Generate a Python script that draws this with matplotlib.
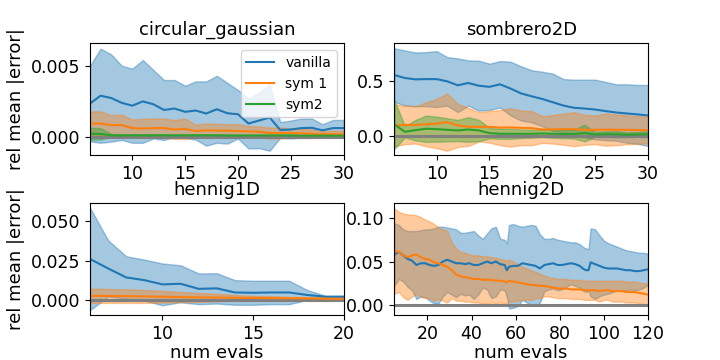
import matplotlib
matplotlib.use("Agg")
import matplotlib.pyplot as plt
import numpy as np

plt.rcParams['font.size'] = 12.5
plt.rcParams['axes.titlesize'] = 13
plt.rcParams['axes.labelsize'] = 13
plt.rcParams['legend.fontsize'] = 10

# circular_gaussian
x_circ = list(range(6, 31))
circ_van_mean = [0.00235, 0.0029, 0.00274, 0.0024, 0.0022, 0.0025, 0.0023, 0.0019, 0.002, 0.00177,
                 0.00186, 0.00165, 0.00195, 0.00167, 0.0016, 0.00095, 0.00116, 0.00137, 0.0005, 0.00053,
                 0.00063, 0.00065, 0.00047, 0.00063, 0.00063]
circ_van_std = [0.00265, 0.0033, 0.00306, 0.0026, 0.0026, 0.0029, 0.0024, 0.0021, 0.002, 0.00183,
                0.00204, 0.00225, 0.00235, 0.00213, 0.0017, 0.00175, 0.00194, 0.00233, 0.00055, 0.00063,
                0.00067, 0.00065, 0.00043, 0.00057, 0.00057]
circ_sym1_mean = [0.00095, 0.00095, 0.00084, 0.00084, 0.00063, 0.0006, 0.00063, 0.00063, 0.00053, 0.00058,
                  0.00042, 0.00047, 0.00045, 0.00045, 0.00042, 0.0004, 0.00037, 0.00028, 0.00028, 0.00028,
                  0.00026, 0.00023, 0.00021, 0.0002, 0.0002]
circ_sym1_std = [0.00085, 0.00085, 0.00069, 0.00074, 0.0006, 0.00068, 0.00067, 0.00067, 0.00066, 0.00072,
                 0.00046, 0.00048, 0.00048, 0.00045, 0.00048, 0.00037, 0.00037, 0.00039, 0.00039, 0.00032,
                 0.00032, 0.0003, 0.00019, 0.00027, 0.00022]
circ_sym2_mean = [0.00023, 0.00022, 0.00012, 0.00012, 0.00012, 0.00012, 0.00012, 0.00012, 0.00012, 0.00012,
                  0.00012, 0.00012, 0.00012, 0.00011, 0.00011, 0.00011, 0.00011, 0.00011, 0.00011, 0.00011,
                  0.0001, 0.0001, 0.0001, 0.0001, 0.0001]
circ_sym2_std = [0.00042, 0.0004, 0.0001, 0.00008, 0.00008, 0.00008, 0.00008, 0.00007, 0.00007, 0.00007,
                 0.00007, 0.00007, 0.00006, 0.00006, 0.00006, 0.00006, 0.00006, 0.00006, 0.00005, 0.00005,
                 0.00005, 0.00005, 0.00005, 0.00005, 0.00005]

# sombrero2D
x_somb = list(range(6, 31))
somb_van_mean = [0.557, 0.53, 0.518, 0.52, 0.52, 0.5, 0.464, 0.485, 0.46, 0.45, 0.473, 0.434, 0.39, 0.364,
                 0.34, 0.31, 0.28, 0.26, 0.253, 0.244, 0.23, 0.217, 0.208, 0.2, 0.19]
somb_van_std = [0.243, 0.25, 0.244, 0.245, 0.254, 0.22, 0.244, 0.205, 0.227, 0.21, 0.211, 0.244, 0.246,
                0.236, 0.247, 0.26, 0.24, 0.255, 0.262, 0.271, 0.264, 0.256, 0.265, 0.267, 0.277]
somb_sym1_mean = [0.1, 0.105, 0.105, 0.11, 0.117, 0.13, 0.1, 0.087, 0.087, 0.087, 0.08, 0.082, 0.078, 0.075,
                  0.063, 0.064, 0.066, 0.066, 0.06, 0.06, 0.062, 0.06, 0.06, 0.058, 0.057]
somb_sym1_std = [0.19, 0.175, 0.169, 0.2, 0.223, 0.26, 0.195, 0.173, 0.133, 0.143, 0.16, 0.174, 0.157,
                 0.155, 0.121, 0.129, 0.142, 0.154, 0.136, 0.13, 0.146, 0.14, 0.13, 0.126, 0.121]
somb_sym2_mean = [0.108, 0.042, 0.057, 0.07, 0.066, 0.06, 0.054, 0.063, 0.054, 0.03, 0.024, 0.024, 0.024,
                  0.024, 0.027, 0.024, 0.022, 0.022, 0.03, 0.018, 0.02, 0.02, 0.015, 0.018, 0.02]
somb_sym2_std = [0.222, 0.051, 0.093, 0.12, 0.114, 0.105, 0.096, 0.112, 0.096, 0.048, 0.046, 0.046, 0.039,
                 0.036, 0.033, 0.038, 0.038, 0.041, 0.075, 0.022, 0.025, 0.028, 0.021, 0.022, 0.028]

# hennig1D
x_h1 = list(range(6, 21))
h1_van_mean = [0.026, 0.02, 0.0143, 0.0126, 0.0099, 0.0103, 0.0071, 0.0074, 0.0048, 0.0046, 0.0048, 0.0048,
               0.0032, 0.0021, 0.0021]
h1_van_std = [0.0324, 0.0178, 0.0134, 0.013, 0.0132, 0.0117, 0.0097, 0.0096, 0.0078, 0.0076, 0.0074, 0.0074,
              0.0031, 0.0006, 0.0006]
h1_sym1_mean = [0.0027, 0.0026, 0.0025, 0.0023, 0.0021, 0.0019, 0.0017, 0.0016, 0.0014, 0.0013, 0.0012,
                0.0011, 0.001, 0.0009, 0.0008]
h1_sym1_std = [0.0045, 0.0044, 0.0043, 0.0041, 0.0037, 0.0032, 0.0028, 0.0024, 0.0018, 0.0014, 0.0012,
               0.001, 0.0009, 0.0008, 0.0007]

# hennig2D
x_h2 = [5, 7, 9, 11, 13, 15, 17, 19, 21, 23, 25, 27, 29, 31, 33, 35, 37, 39, 41, 43, 45, 47, 49, 51, 53, 55,
        56, 57, 59, 61, 63, 65, 67, 69, 71, 73, 75, 77, 79, 81, 83, 85, 87, 89, 91, 92, 93, 94, 96, 98, 100,
        102, 104, 106, 108, 110, 112, 114, 116, 118, 120]
h2_van_mean = [0.058, 0.061, 0.057, 0.053, 0.051, 0.046, 0.048, 0.048, 0.046, 0.045, 0.046, 0.05, 0.052,
               0.05, 0.048, 0.048, 0.047, 0.048, 0.046, 0.046, 0.048, 0.05, 0.048, 0.05, 0.047, 0.046,
               0.04, 0.044, 0.045, 0.045, 0.048, 0.047, 0.046, 0.045, 0.042, 0.046, 0.047, 0.048, 0.046,
               0.046, 0.047, 0.048, 0.047, 0.045, 0.041, 0.04, 0.04, 0.049, 0.047, 0.045, 0.043,
               0.042, 0.042, 0.042, 0.041, 0.04, 0.04, 0.039, 0.039, 0.04, 0.041]
h2_van_std = [0.036, 0.031, 0.03, 0.032, 0.034, 0.039, 0.038, 0.039, 0.041, 0.043, 0.044, 0.04, 0.037,
              0.038, 0.039, 0.035, 0.036, 0.036, 0.039, 0.034, 0.028, 0.032, 0.04, 0.04, 0.029, 0.029,
              0.031, 0.048, 0.048, 0.046, 0.042, 0.044, 0.046, 0.046, 0.039, 0.03, 0.029, 0.029, 0.029,
              0.028, 0.026, 0.024, 0.025, 0.025, 0.025, 0.025, 0.024, 0.039, 0.04, 0.035, 0.031,
              0.029, 0.027, 0.025, 0.024, 0.023, 0.022, 0.022, 0.021, 0.02, 0.018]
h2_sym1_mean = [0.062, 0.061, 0.057, 0.055, 0.057, 0.058, 0.055, 0.053, 0.052, 0.049, 0.048, 0.046, 0.044,
                0.04, 0.035, 0.033, 0.032, 0.031, 0.03, 0.03, 0.029, 0.029, 0.029, 0.028, 0.028, 0.027,
                0.026, 0.028, 0.027, 0.026, 0.025, 0.024, 0.023, 0.023, 0.022, 0.022, 0.021, 0.02, 0.019,
                0.019, 0.019, 0.018, 0.018, 0.018, 0.017, 0.017, 0.017, 0.017, 0.017, 0.016, 0.017,
                0.017, 0.016, 0.016, 0.016, 0.015, 0.015, 0.015, 0.014, 0.013, 0.012]
h2_sym1_std = [0.049, 0.046, 0.048, 0.049, 0.047, 0.045, 0.046, 0.045, 0.044, 0.044, 0.041, 0.041, 0.041,
               0.032, 0.03, 0.028, 0.028, 0.027, 0.027, 0.027, 0.027, 0.027, 0.026, 0.026, 0.025, 0.025,
               0.025, 0.024, 0.023, 0.021, 0.019, 0.018, 0.017, 0.015, 0.014, 0.012, 0.011, 0.011, 0.011,
               0.011, 0.011, 0.011, 0.011, 0.011, 0.011, 0.011, 0.011, 0.011, 0.011, 0.012, 0.011,
               0.011, 0.012, 0.012, 0.012, 0.012, 0.012, 0.012, 0.012, 0.012, 0.013]


def band(ax, x, mean, std, color, label=None):
    mean = np.array(mean)
    std = np.array(std)
    ax.plot(x, mean, color=color, label=label)
    ax.fill_between(x, mean - std, mean + std, color=color, alpha=0.4)


fig, axs = plt.subplots(2, 2, figsize=(7.2, 3.6))
plt.subplots_adjust(left=0.125, right=0.9, top=0.88, bottom=0.125, wspace=0.2, hspace=0.43)

ax = axs[0, 0]
ax.axhline(0, color='gray', lw=2.2)
band(ax, x_circ, circ_van_mean, circ_van_std, 'C0', 'vanilla')
band(ax, x_circ, circ_sym1_mean, circ_sym1_std, 'C1', 'sym 1')
band(ax, x_circ, circ_sym2_mean, circ_sym2_std, 'C2', 'sym2')
ax.set_title('circular_gaussian')
ax.set_ylabel('rel mean |error|')
ax.set_xlim(6, 30)
ax.set_ylim(-0.00126, 0.00658)
ax.set_yticks([0.0, 0.005])
ax.set_xticks([10, 15, 20, 25, 30])
ax.legend(loc='upper right')

ax = axs[0, 1]
ax.axhline(0, color='gray', lw=2.2)
band(ax, x_somb, somb_van_mean, somb_van_std, 'C0')
band(ax, x_somb, somb_sym1_mean, somb_sym1_std, 'C1')
band(ax, x_somb, somb_sym2_mean, somb_sym2_std, 'C2')
ax.set_title('sombrero2D')
ax.set_xlim(6, 30)
ax.set_ylim(-0.169, 0.846)
ax.set_yticks([0.0, 0.5])
ax.set_xticks([10, 15, 20, 25, 30])

ax = axs[1, 0]
ax.axhline(0, color='gray', lw=2.2)
band(ax, x_h1, h1_van_mean, h1_van_std, 'C0')
band(ax, x_h1, h1_sym1_mean, h1_sym1_std, 'C1')
ax.set_title('hennig1D')
ax.set_ylabel('rel mean |error|')
ax.set_xlabel('num evals', labelpad=1)
ax.set_xlim(6, 20)
ax.set_ylim(-0.00945, 0.0613)
ax.set_yticks([0.0, 0.025, 0.05])
ax.set_xticks([10, 15, 20])

ax = axs[1, 1]
ax.axhline(0, color='gray', lw=2.2)
band(ax, x_h2, h2_van_mean, h2_van_std, 'C0')
band(ax, x_h2, h2_sym1_mean, h2_sym1_std, 'C1')
ax.set_title('hennig2D')
ax.set_xlabel('num evals', labelpad=1)
ax.set_xlim(5, 120)
ax.set_ylim(-0.0114, 0.117)
ax.set_yticks([0.0, 0.05, 0.1])
ax.set_xticks([20, 40, 60, 80, 100, 120])

fig.savefig('out.png', dpi=100)
